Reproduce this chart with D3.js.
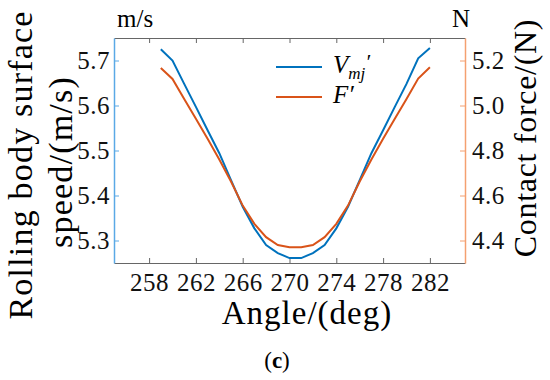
<!DOCTYPE html>
<html>
<head>
<meta charset="utf-8">
<script src="https://cdn.jsdelivr.net/npm/d3@7"></script>
<style>
  body { margin: 0; background: #fff; }
  text { font-family: "Liberation Serif", "Times New Roman", serif; }
</style>
</head>
<body>
<script>
// DATA
var angle = [259, 260, 261, 262, 263, 264, 265, 266, 267, 268, 269, 270,
             271, 272, 273, 274, 275, 276, 277, 278, 279, 280, 281, 282];
var speed = [5.725, 5.700, 5.648, 5.597, 5.545, 5.494, 5.434, 5.375, 5.327, 5.290, 5.272, 5.261,
             5.261, 5.272, 5.290, 5.327, 5.375, 5.434, 5.494, 5.545, 5.597, 5.648, 5.705, 5.728];
var force = [5.167, 5.118, 5.029, 4.941, 4.852, 4.760, 4.662, 4.555, 4.474, 4.415, 4.380, 4.370,
             4.370, 4.380, 4.415, 4.474, 4.555, 4.662, 4.760, 4.852, 4.941, 5.029, 5.120, 5.170];
var xTicks = [258, 262, 266, 270, 274, 278, 282];
var leftTicks = [5.3, 5.4, 5.5, 5.6, 5.7];
var rightTicks = [4.4, 4.6, 4.8, 5.0, 5.2];

var blue = "#0072bd";
var orange = "#d95319";

// SCALES
var w = 550, h = 380;
var m = {left: 114, right: 465, top: 38, bottom: 263};

var x = d3.scaleLinear().domain([255, 285]).range([m.left, m.right]);
var yL = d3.scaleLinear().domain([5.25, 5.75]).range([m.bottom, m.top]);
var yR = d3.scaleLinear().domain([4.3, 5.3]).range([m.bottom, m.top]);

var svg = d3.select("body")
  .append("svg")
  .attr("width", w)
  .attr("height", h);

// AXES
var gx = svg.append("g")
  .attr("transform", "translate(0," + m.bottom + ")")
  .call(d3.axisBottom(x).tickValues(xTicks).tickSizeInner(-5).tickSizeOuter(0).tickPadding(10));

var gt = svg.append("g")
  .attr("transform", "translate(0," + m.top + ")")
  .call(d3.axisTop(x).tickValues(xTicks).tickSizeInner(-5).tickSizeOuter(0).tickFormat(""));

var gl = svg.append("g")
  .attr("transform", "translate(" + m.left + ",0)")
  .call(d3.axisLeft(yL).tickValues(leftTicks).tickSizeInner(-5).tickSizeOuter(0)
        .tickPadding(4).tickFormat(d3.format(".1f")));

var gr = svg.append("g")
  .attr("transform", "translate(" + m.right + ",0)")
  .call(d3.axisRight(yR).tickValues(rightTicks).tickSizeInner(-5).tickSizeOuter(0)
        .tickPadding(7).tickFormat(d3.format(".1f")));

[gx, gt, gl, gr].forEach(function(g) {
  g.selectAll("text")
   .style("font-family", "'Liberation Serif', serif")
   .style("font-size", "25px")
   .style("letter-spacing", "0.5px")
   .attr("fill", "#111");
});

gx.select(".domain").attr("stroke", "#666");
gx.selectAll(".tick line").attr("stroke", "#666");
gt.select(".domain").attr("stroke", "#666");
gt.selectAll(".tick line").attr("stroke", "#666");
gl.select(".domain").attr("stroke", "#5aa9e6").attr("stroke-width", 1.5);
gl.selectAll(".tick line").attr("stroke", "#5aa9e6");
gr.select(".domain").attr("stroke", "#f4a070").attr("stroke-width", 1.5);
gr.selectAll(".tick line").attr("stroke", "#f4a070");

// LINES
var lineSpeed = d3.line()
  .x(function(d, i) { return x(angle[i]); })
  .y(function(d) { return yL(d); });

var lineForce = d3.line()
  .x(function(d, i) { return x(angle[i]); })
  .y(function(d) { return yR(d); });

svg.append("path")
  .datum(speed)
  .attr("d", lineSpeed)
  .attr("fill", "none")
  .attr("stroke", blue)
  .attr("stroke-width", 2);

svg.append("path")
  .datum(force)
  .attr("d", lineForce)
  .attr("fill", "none")
  .attr("stroke", orange)
  .attr("stroke-width", 2);

// LEGEND
svg.append("line")
  .attr("x1", 276).attr("x2", 322).attr("y1", 67).attr("y2", 67)
  .attr("stroke", blue).attr("stroke-width", 2);
svg.append("line")
  .attr("x1", 276).attr("x2", 322).attr("y1", 97).attr("y2", 97)
  .attr("stroke", orange).attr("stroke-width", 2);

var lv = svg.append("text")
  .attr("x", 333).attr("y", 73)
  .attr("font-size", "25px")
  .attr("font-style", "italic");
lv.append("tspan").text("V");
lv.append("tspan").attr("font-size", "17px").attr("dy", 6).text("mj");
lv.append("tspan").attr("font-size", "22px").attr("dy", -10).text("′");

svg.append("text")
  .attr("x", 333).attr("y", 103)
  .attr("font-size", "25px")
  .attr("font-style", "italic")
  .text("F′");

// UNITS
svg.append("text")
  .attr("x", 117).attr("y", 27)
  .attr("font-size", "25px")
  .text("m/s");
svg.append("text")
  .attr("x", 452).attr("y", 27)
  .attr("font-size", "25px")
  .text("N");

// TITLES
svg.append("text")
  .attr("x", 307).attr("y", 324)
  .attr("text-anchor", "middle")
  .attr("font-size", "33px")
  .style("letter-spacing", "1px")
  .text("Angle/(deg)");

svg.append("text")
  .attr("transform", "translate(32,165) rotate(-90)")
  .attr("text-anchor", "middle")
  .attr("font-size", "34px")
  .style("letter-spacing", "1.2px")
  .text("Rolling body surface");
svg.append("text")
  .attr("transform", "translate(72,162) rotate(-90)")
  .attr("text-anchor", "middle")
  .attr("font-size", "34px")
  .style("letter-spacing", "1.2px")
  .text("speed/(m/s)");

svg.append("text")
  .attr("transform", "translate(536,138) rotate(-90)")
  .attr("text-anchor", "middle")
  .attr("font-size", "32px")
  .style("letter-spacing", "0.7px")
  .text("Contact force/(N)");

// CAPTION
var cap = svg.append("text")
  .attr("x", 277).attr("y", 368)
  .attr("text-anchor", "middle")
  .attr("font-size", "23px");
cap.append("tspan").text("(");
cap.append("tspan").attr("font-weight", "bold").text("c");
cap.append("tspan").text(")");
</script>
</body>
</html>
